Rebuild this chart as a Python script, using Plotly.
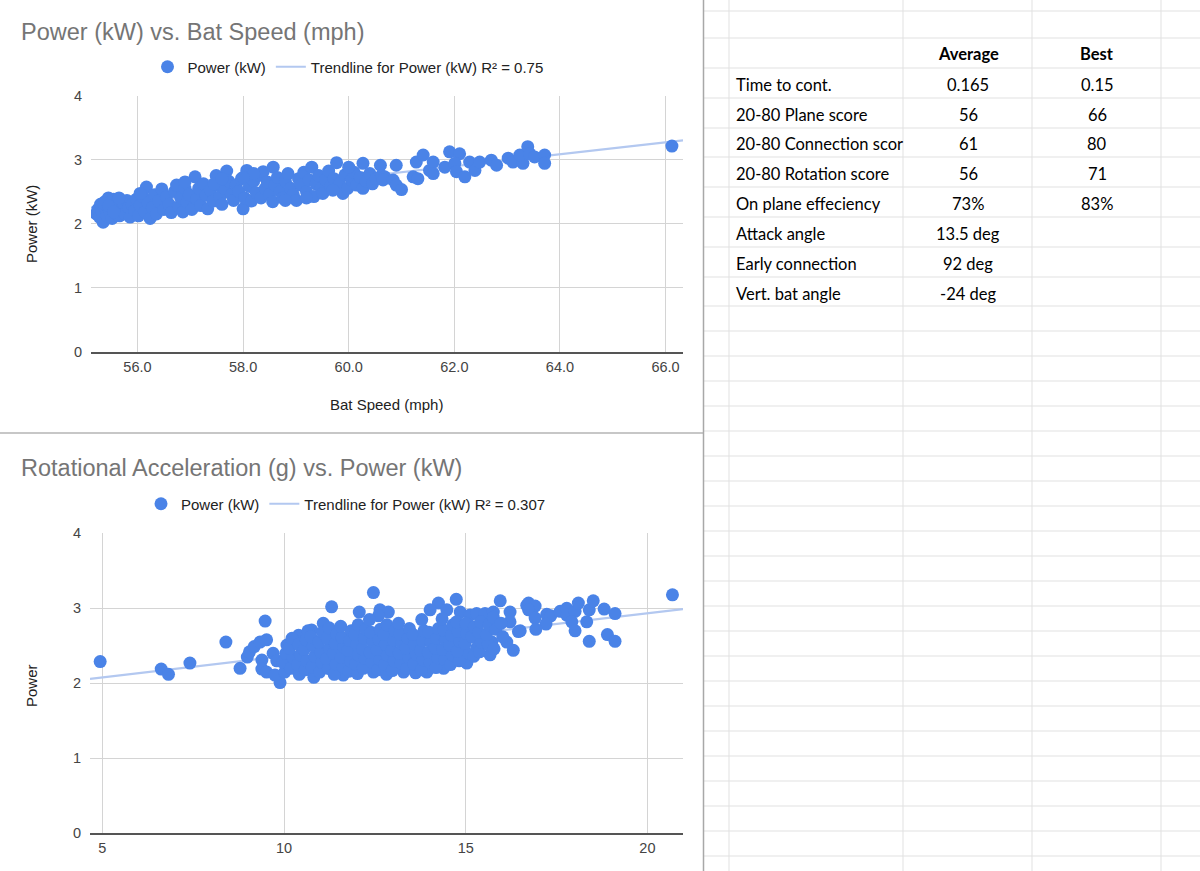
import plotly.graph_objects as go

# ---------------- data: chart 1 (Power vs Bat Speed) ----------------
bat_speed = [
    55.22, 55.25, 55.28, 55.30, 55.33, 55.35, 55.38, 55.40, 55.42, 55.45,
    55.47, 55.50, 55.52, 55.55, 55.58, 55.60, 55.63, 55.66, 55.70, 55.73,
    55.76, 55.80, 55.83, 55.86, 55.90, 55.95, 55.98, 56.02, 56.05, 56.10,
    56.14, 56.17, 56.20, 56.24, 56.28, 56.32, 56.36, 56.40, 56.46, 56.50,
    56.55, 56.60, 56.64, 56.70, 56.74, 56.78, 56.82, 56.86, 56.90, 56.94,
    56.98, 57.03, 57.09, 57.12, 57.16, 57.20, 57.25, 57.30, 57.33, 57.38,
    57.43, 57.49, 57.52, 57.56, 57.60, 57.65, 57.69, 57.73, 57.78, 57.82,
    57.87, 57.92, 57.97, 58.00, 58.03, 58.07, 58.12, 58.16, 58.20, 58.25,
    58.30, 58.34, 58.38, 58.42, 58.46, 58.50, 58.56, 58.57, 58.60, 58.65,
    58.70, 58.75, 58.80, 58.85, 58.90, 58.95, 59.01, 59.05, 59.10, 59.15,
    59.20, 59.25, 59.30, 59.34, 59.38, 59.43, 59.48, 59.51, 59.56, 59.62,
    59.66, 59.72, 59.77, 59.82, 59.89, 59.93, 59.98, 60.05, 60.10, 60.15,
    60.22, 60.27, 60.27, 60.33, 60.40, 60.45, 60.52, 60.60, 60.62, 60.68,
    60.65, 60.84, 60.90, 60.90, 61.00, 61.22, 61.31, 61.28, 61.41, 61.53,
    61.60, 61.60, 61.82, 61.91, 62.10, 62.01, 62.04, 62.20, 62.29, 62.39,
    62.48, 62.70, 62.80, 63.02, 63.11, 63.30, 63.24, 63.39, 63.43, 63.52,
    63.71, 63.71, 66.12, 55.35, 55.45, 55.55, 55.65, 56.05,
    57.45, 58.20, 58.80, 59.20, 59.70, 60.00, 58.00, 57.60, 56.90,
]
power_bs = [
    2.15, 2.22, 2.10, 2.30, 2.18, 2.02, 2.25, 2.35, 2.12, 2.40,
    2.20, 2.30, 2.08, 2.38, 2.16, 2.27, 2.35, 2.12, 2.22, 2.32,
    2.15, 2.36, 2.25, 2.10, 2.30, 2.20, 2.38, 2.12, 2.28, 2.42,
    2.18, 2.57, 2.32, 2.08, 2.25, 2.45, 2.15, 2.35, 2.54, 2.22,
    2.42, 2.30, 2.17, 2.50, 2.60, 2.26, 2.40, 2.18, 2.55, 2.33,
    2.45, 2.22, 2.73, 2.38, 2.55, 2.28, 2.62, 2.44, 2.23, 2.52,
    2.35, 2.75, 2.60, 2.42, 2.30, 2.55, 2.82, 2.66, 2.45, 2.36,
    2.60, 2.50, 2.70, 2.23, 2.40, 2.83, 2.58, 2.35, 2.66, 2.48,
    2.75, 2.40, 2.81, 2.55, 2.65, 2.45, 2.34, 2.88, 2.60, 2.72,
    2.50, 2.40, 2.66, 2.78, 2.55, 2.45, 2.36, 2.70, 2.60, 2.80,
    2.50, 2.68, 2.88, 2.42, 2.62, 2.75, 2.55, 2.47, 2.68, 2.82,
    2.58, 2.70, 2.95, 2.62, 2.47, 2.76, 2.55, 2.68, 2.80, 2.60,
    2.72, 2.94, 2.55, 2.66, 2.78, 2.62, 2.70, 2.91, 2.75, 2.73,
    2.68, 2.68, 2.91, 2.60, 2.53, 2.73, 2.70, 2.96, 3.07, 2.83,
    2.96, 2.78, 2.88, 3.12, 3.09, 2.94, 2.81, 2.73, 2.96, 2.83,
    2.96, 2.99, 2.91, 3.02, 2.96, 2.94, 3.07, 3.20, 3.09, 3.04,
    3.07, 2.94, 3.21, 2.32, 2.28, 2.18, 2.40, 2.47,
    2.62, 2.78, 2.36, 2.40, 2.52, 2.88, 2.72, 2.70, 2.65,
]
trend1_x = [55.12, 66.33]
trend1_y = [2.25, 3.30]
ticks1 = [56, 58, 60, 62, 64, 66]
ticklabels1 = ["56.0", "58.0", "60.0", "62.0", "64.0", "66.0"]

# ---------------- data: chart 2 (Rotational Acceleration vs Power) ----------------
rot_accel = [
    4.94, 6.62, 6.82, 7.41, 8.40, 8.79, 8.99, 9.05, 9.18, 9.34,
    9.48, 9.52, 9.39, 9.39, 9.52, 9.89, 9.75, 9.70, 9.80, 10.76,
    11.08, 10.40, 10.08, 11.31, 12.07, 12.46, 12.64, 12.87, 12.60, 14.25,
    14.74, 14.02, 14.48, 14.85, 15.12, 15.30, 15.53, 15.76, 15.95, 16.22,
    16.68, 16.22, 16.45, 16.31, 16.13, 15.72, 15.67, 15.03, 15.03, 15.30,
    11.63, 12.46, 13.29, 13.93, 14.39, 11.25,
    16.73, 16.91, 16.73, 16.91, 17.23, 17.34, 17.21, 16.93, 16.50, 17.60,
    17.78, 17.78, 18.01, 18.10, 17.92, 18.01, 18.33, 18.40, 18.51, 18.40,
    18.81, 19.11, 18.90, 19.11, 20.69,
    10.02, 9.97, 10.05,
    10.18, 10.24, 10.15, 10.22,
    10.42, 10.37, 10.45, 10.40,
    10.58, 10.63, 10.55, 10.61, 10.66,
    10.82, 10.77, 10.85, 10.80, 10.74,
    10.98, 11.04, 11.01, 10.96, 11.06,
    11.22, 11.17, 11.25, 11.19, 11.24,
    11.38, 11.43, 11.36, 11.41, 11.45,
    11.62, 11.57, 11.65, 11.60, 11.56,
    11.78, 11.83, 11.76, 11.81, 11.85,
    12.02, 11.97, 12.05, 12.00, 11.95, 12.04,
    12.18, 12.23, 12.16, 12.21, 12.25,
    12.42, 12.37, 12.44, 12.39, 12.35,
    12.58, 12.63, 12.56, 12.61, 12.65,
    12.82, 12.77, 12.84, 12.79, 12.75, 12.83,
    12.98, 13.03, 12.96, 13.01, 13.05,
    13.22, 13.17, 13.24, 13.19, 13.15,
    13.38, 13.43, 13.36, 13.41, 13.45,
    13.62, 13.57, 13.64, 13.59, 13.55,
    13.78, 13.83, 13.76, 13.81, 13.85, 13.79,
    14.02, 13.97, 14.04, 13.99,
    14.18, 14.23, 14.16, 14.21, 14.25,
    14.42, 14.37, 14.44, 14.39, 14.35,
    14.58, 14.63, 14.56, 14.61, 14.65,
    14.82, 14.77, 14.84, 14.79, 14.75,
    14.98, 15.03, 15.01,
    15.22, 15.17, 15.24,
    15.38, 15.43, 15.36, 15.41,
    15.62, 15.57, 15.64,
    15.78, 15.83, 15.76,
    16.02, 15.97,
]
power_ra = [
    2.29, 2.19, 2.12, 2.27, 2.55, 2.20, 2.35, 2.42, 2.49, 2.55,
    2.83, 2.58, 2.31, 2.19, 2.15, 2.01, 2.11, 2.40, 2.30, 2.71,
    2.80, 2.64, 2.51, 3.02, 2.95, 3.21, 2.98, 2.95, 2.90, 3.07,
    3.12, 2.98, 2.98, 2.95, 2.91, 2.93, 2.93, 2.95, 3.10, 2.95,
    3.04, 2.82, 2.69, 2.44, 2.55, 2.55, 2.38, 2.27, 2.40, 2.47,
    2.11, 2.15, 2.15, 2.15, 2.20, 2.20,
    3.07, 3.03, 2.98, 2.87, 2.92, 2.90, 2.79, 2.72, 2.70, 2.96,
    3.00, 2.91, 2.96, 3.07, 2.82, 2.70, 2.82, 2.98, 3.10, 2.56,
    2.99, 2.93, 2.65, 2.56, 3.18,
    2.15, 2.28, 2.40,
    2.20, 2.35, 2.47, 2.60,
    2.12, 2.25, 2.38, 2.52,
    2.18, 2.30, 2.45, 2.58, 2.70,
    2.08, 2.22, 2.36, 2.50, 2.62,
    2.15, 2.28, 2.42, 2.55, 2.68,
    2.20, 2.33, 2.47, 2.60, 2.74,
    2.12, 2.26, 2.40, 2.53, 2.66,
    2.22, 2.35, 2.48, 2.61, 2.76,
    2.16, 2.30, 2.44, 2.57, 2.70,
    2.13, 2.26, 2.38, 2.52, 2.65, 2.78,
    2.20, 2.33, 2.46, 2.60, 2.72,
    2.28, 2.41, 2.55, 2.68, 2.85,
    2.18, 2.32, 2.45, 2.58, 2.72,
    2.12, 2.25, 2.38, 2.52, 2.65, 2.78,
    2.17, 2.30, 2.44, 2.57, 2.70,
    2.27, 2.40, 2.53, 2.66, 2.80,
    2.20, 2.34, 2.47, 2.60, 2.73,
    2.14, 2.26, 2.39, 2.52, 2.65,
    2.18, 2.31, 2.44, 2.57, 2.70, 2.85,
    2.28, 2.41, 2.55, 2.68,
    2.21, 2.34, 2.47, 2.60, 2.73,
    2.32, 2.45, 2.58, 2.71, 2.86,
    2.25, 2.38, 2.51, 2.64, 2.78,
    2.30, 2.43, 2.56, 2.69, 2.82,
    2.53, 2.66, 2.80,
    2.36, 2.62, 2.75,
    2.42, 2.55, 2.68, 2.82,
    2.52, 2.65, 2.78,
    2.46, 2.72, 2.88,
    2.62, 2.80,
]
trend2_x = [4.66, 20.98]
trend2_y = [2.06, 2.99]
ticks2 = [5, 10, 15, 20]
yticks = [0, 1, 2, 3, 4]

# ---------------- data: spreadsheet ----------------
table_headers = ["Average", "Best"]
metric_labels = ["Time to cont.", "20-80 Plane score", "20-80 Connection scor",
                 "20-80 Rotation score", "On plane effeciency", "Attack angle",
                 "Early connection", "Vert. bat angle"]
metric_average = ["0.165", "56", "61", "56", "73%", "13.5 deg", "92 deg", "-24 deg"]
metric_best = ["0.15", "66", "80", "71", "83%", "", "", ""]

# ---------------- styling ----------------
W, H = 1200, 871
FONT = "Liberation Sans, Arial, sans-serif"
TFONT = "Lato, Open Sans, sans-serif"
BLUE = "#4a83e7"
TREND = "#b3c8f0"
GRID = "#d4d4d4"
TSIZE = 16.5


def fx(p):
    return p / W


def fy(p):
    return 1 - p / H


fig = go.Figure()

# chart 1
fig.add_trace(go.Scatter(x=trend1_x, y=trend1_y, mode="lines", xaxis="x", yaxis="y",
                         line=dict(color=TREND, width=2.2), legend="legend", legendrank=2,
                         name="Trendline for Power (kW) R² = 0.75", hoverinfo="skip"))
fig.add_trace(go.Scatter(x=bat_speed, y=power_bs, mode="markers", xaxis="x", yaxis="y",
                         marker=dict(color=BLUE, size=13, line=dict(width=0)),
                         legend="legend", legendrank=1, name="Power (kW)"))
# chart 2
fig.add_trace(go.Scatter(x=trend2_x, y=trend2_y, mode="lines", xaxis="x2", yaxis="y2",
                         line=dict(color=TREND, width=2.2), legend="legend2", legendrank=2,
                         name="Trendline for Power (kW) R² = 0.307", hoverinfo="skip"))
fig.add_trace(go.Scatter(x=rot_accel, y=power_ra, mode="markers", xaxis="x2", yaxis="y2",
                         marker=dict(color=BLUE, size=13, line=dict(width=0)),
                         legend="legend2", legendrank=1, name="Power (kW)"))

tickfont = dict(family=FONT, size=14.5, color="#444")
common_x = dict(showgrid=True, gridcolor=GRID, gridwidth=1, showline=True, linecolor="#555",
                linewidth=1.5, zeroline=False, ticks="", tickfont=tickfont, automargin=False,
                ticklabelstandoff=1, fixedrange=True)
common_y = dict(showgrid=True, gridcolor=GRID, gridwidth=1, showline=False, zeroline=False,
                ticks="", tickfont=tickfont, ticklabelstandoff=8, range=[0, 4], automargin=False,
                tickvals=yticks, fixedrange=True)

legend_common = dict(orientation="h", xanchor="center", yanchor="middle",
                     font=dict(family=FONT, size=15, color="#222"),
                     bgcolor="rgba(0,0,0,0)", traceorder="normal", itemwidth=30)

fig.update_layout(
    width=W, height=H, margin=dict(l=0, r=0, t=0, b=0, autoexpand=False),
    paper_bgcolor="white", plot_bgcolor="white", showlegend=True,
    xaxis=dict(domain=[fx(91), fx(683)], range=[55.12, 66.33], tickvals=ticks1,
               ticktext=ticklabels1, anchor="y", **common_x),
    yaxis=dict(domain=[fy(351.5), fy(95.5)], anchor="x", **common_y),
    xaxis2=dict(domain=[fx(90), fx(683)], range=[4.66, 20.98], tickvals=ticks2,
                anchor="y2", **common_x),
    yaxis2=dict(domain=[fy(833.3), fy(533.3)], anchor="x2", **common_y),
    legend=dict(x=fx(348), y=fy(67), **legend_common),
    legend2=dict(x=fx(346), y=fy(504), **legend_common),
)

annotations = []
shapes = []

# chart titles and axis titles
annotations.append(dict(text="Power (kW) vs. Bat Speed (mph)", x=fx(19), y=fy(32),
                        xref="paper", yref="paper", xanchor="left", yanchor="middle",
                        showarrow=False, font=dict(family=FONT, size=23.5, color="#757575")))
annotations.append(dict(text="Rotational Acceleration (g) vs. Power (kW)", x=fx(19), y=fy(468),
                        xref="paper", yref="paper", xanchor="left", yanchor="middle",
                        showarrow=False, font=dict(family=FONT, size=23.5, color="#757575")))
annotations.append(dict(text="Power (kW)", x=fx(31), y=fy(224), xref="paper", yref="paper",
                        textangle=-90, xanchor="center", yanchor="middle", showarrow=False,
                        font=dict(family=FONT, size=15, color="#222")))
annotations.append(dict(text="Power", x=fx(31), y=fy(686), xref="paper", yref="paper",
                        textangle=-90, xanchor="center", yanchor="middle", showarrow=False,
                        font=dict(family=FONT, size=15, color="#222")))
annotations.append(dict(text="Bat Speed (mph)", x=fx(386), y=fy(405), xref="paper", yref="paper",
                        xanchor="center", yanchor="middle", showarrow=False,
                        font=dict(family=FONT, size=15, color="#222")))

# divider lines
shapes.append(dict(type="line", xref="paper", yref="paper", x0=0, x1=fx(703), y0=fy(433),
                   y1=fy(433), line=dict(color="#b5b5b5", width=1.5)))

# spreadsheet grid
col_lines = [729, 903, 1032, 1161]
row_lines = [11, 38, 68, 98, 128, 157, 187, 217, 247, 277, 306]
r = 306
while r + 25 < H:
    r += 25
    row_lines.append(r)
for yl in row_lines:
    shapes.append(dict(type="line", xref="paper", yref="paper", x0=fx(703), x1=1,
                       y0=fy(yl), y1=fy(yl), line=dict(color="#e1e1e1", width=1)))
for xl in col_lines:
    shapes.append(dict(type="line", xref="paper", yref="paper", x0=fx(xl), x1=fx(xl),
                       y0=0, y1=1, line=dict(color="#e1e1e1", width=1)))
shapes.append(dict(type="line", xref="paper", yref="paper", x0=fx(703.5), x1=fx(703.5),
                   y0=0, y1=1, line=dict(color="#a8a8a8", width=1.5)))

# spreadsheet text
col_avg_c = 968
col_best_c = 1097
hdr_y = 54
for hdr, cx in zip(table_headers, [col_avg_c, col_best_c]):
    annotations.append(dict(text="<b>" + hdr + "</b>", x=fx(cx), y=fy(hdr_y),
                            xref="paper", yref="paper", xanchor="center", yanchor="middle",
                            showarrow=False, font=dict(family=TFONT, size=TSIZE, color="#000")))
for i, (lab, avg, best) in enumerate(zip(metric_labels, metric_average, metric_best)):
    top = row_lines[2 + i]
    bot = row_lines[3 + i]
    yc = (top + bot) / 2 + 2
    annotations.append(dict(text=lab, x=fx(734), y=fy(yc), xref="paper", yref="paper",
                            xanchor="left", yanchor="middle", showarrow=False,
                            font=dict(family=TFONT, size=TSIZE, color="#000")))
    annotations.append(dict(text=avg, x=fx(col_avg_c), y=fy(yc), xref="paper", yref="paper",
                            xanchor="center", yanchor="middle", showarrow=False,
                            font=dict(family=TFONT, size=TSIZE, color="#000")))
    if best:
        annotations.append(dict(text=best, x=fx(col_best_c), y=fy(yc), xref="paper",
                                yref="paper", xanchor="center", yanchor="middle",
                                showarrow=False, font=dict(family=TFONT, size=TSIZE, color="#000")))

fig.update_layout(annotations=annotations, shapes=shapes)
fig.write_html("out.html")
